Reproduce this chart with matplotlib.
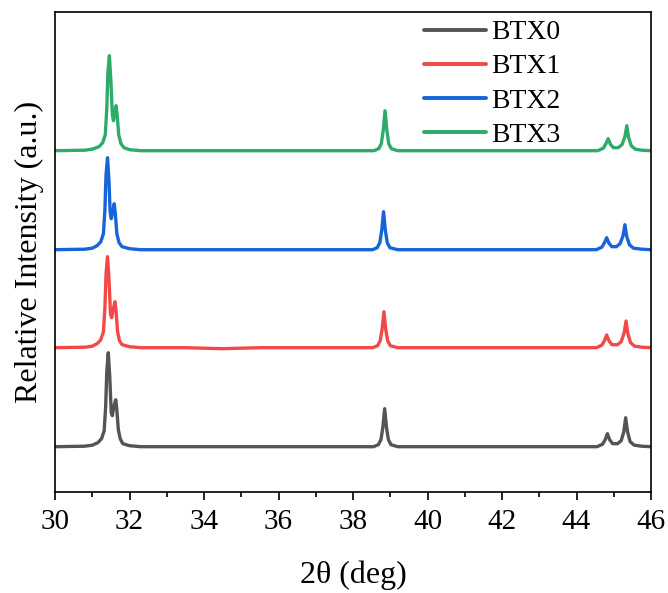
import matplotlib.pyplot as plt
from matplotlib.ticker import MultipleLocator

plt.rcParams['font.family'] = ['Liberation Serif', 'DejaVu Serif']

# ---- data (2theta in deg, intensity in a.u.) ----
labels = ['BTX0', 'BTX1', 'BTX2', 'BTX3']
colors = ['#545454', '#F44848', '#1764DA', '#2EAA6A']
offsets = [45.3, 144.3, 242.3, 341.3]

btx0_x = [30.0, 30.8, 31.0, 31.15, 31.25, 31.32, 31.36, 31.39, 31.43, 31.47,
          31.51, 31.54, 31.58, 31.63, 31.66, 31.70, 31.75, 31.82, 32.0, 32.3,
          38.55, 38.68, 38.75, 38.80, 38.85, 38.90, 38.95, 39.02, 39.2,
          44.55, 44.7, 44.77, 44.83, 44.89, 44.97, 45.1, 45.2, 45.27, 45.32,
          45.37, 45.44, 45.55, 45.75, 46.0]
btx0_y = [0, 0.5, 1.5, 4, 8, 16, 40, 75, 94, 70,
          34, 31, 40, 47, 37, 17, 8, 3, 1, 0,
          0, 2, 7, 19, 38, 19, 7, 2, 0,
          0, 2.5, 7, 13, 7, 3, 3, 6, 15, 29,
          15, 5, 1.5, 0.5, 0]

btx1_x = [30.0, 30.8, 31.0, 31.13, 31.23, 31.30, 31.34, 31.37, 31.41, 31.45,
          31.49, 31.52, 31.56, 31.61, 31.64, 31.68, 31.73, 31.80, 32.0, 32.3,
          33.5, 34.5, 35.5,
          38.53, 38.66, 38.73, 38.78, 38.83, 38.88, 38.93, 39.0, 39.2,
          44.53, 44.68, 44.75, 44.81, 44.87, 44.95, 45.1, 45.2, 45.28, 45.33,
          45.38, 45.45, 45.56, 45.75, 46.0]
btx1_y = [0, 0.5, 1.5, 4, 8, 16, 40, 74, 91, 68,
          34, 30, 38, 46, 36, 16, 7, 3, 1, 0,
          0, -1, 0,
          0, 2, 7, 18, 36, 18, 7, 2, 0,
          0, 2.5, 7, 12.7, 7, 3, 3, 6, 15, 26.7,
          14, 5, 1.5, 0.5, 0]

btx2_x = [30.0, 30.8, 31.0, 31.13, 31.23, 31.30, 31.34, 31.37, 31.41, 31.45,
          31.48, 31.51, 31.55, 31.59, 31.62, 31.66, 31.72, 31.80, 32.0, 32.3,
          38.52, 38.65, 38.72, 38.77, 38.82, 38.87, 38.92, 38.99, 39.2,
          44.53, 44.68, 44.75, 44.81, 44.87, 44.95, 45.07, 45.17, 45.25, 45.30,
          45.35, 45.42, 45.53, 45.75, 46.0]
btx2_y = [0, 0.5, 1.5, 4, 8, 16, 40, 75, 92, 68,
          38, 31, 38, 46, 36, 16, 7, 3, 1, 0,
          0, 2, 7, 19, 38, 19, 7, 2, 0,
          0, 2.5, 7, 12, 6.5, 3, 3, 6, 14, 25,
          13, 5, 1.5, 0.5, 0]

btx3_x = [30.0, 30.8, 31.0, 31.18, 31.28, 31.35, 31.39, 31.42, 31.46, 31.50,
          31.54, 31.57, 31.60, 31.64, 31.67, 31.71, 31.77, 31.85, 32.0, 32.3,
          38.56, 38.69, 38.76, 38.81, 38.86, 38.91, 38.96, 39.03, 39.2,
          44.57, 44.72, 44.79, 44.85, 44.91, 44.99, 45.12, 45.22, 45.30, 45.35,
          45.40, 45.47, 45.58, 45.75, 46.0]
btx3_y = [0, 0.5, 1.5, 4, 8, 16, 42, 78, 95, 70,
          36, 30, 37, 45, 35, 16, 7, 3, 1, 0,
          0, 2, 7, 20, 40, 20, 7, 2, 0,
          0, 2.5, 7, 12, 6.5, 3, 3, 6, 14, 25,
          13, 5, 1.5, 0.5, 0]

xs = [btx0_x, btx1_x, btx2_x, btx3_x]
ys = [btx0_y, btx1_y, btx2_y, btx3_y]

fig = plt.figure(figsize=(6.68, 5.93), dpi=100)
ax = fig.add_axes([55 / 668, 1 - 492 / 593, 596 / 668, 480 / 593])

for x, y, off, c, lab in zip(xs, ys, offsets, colors, labels):
    ax.plot(x, [v + off for v in y], color=c, lw=2.4, label=lab,
            solid_joinstyle='round', solid_capstyle='round')

ax.set_xlim(30, 46)
ax.set_ylim(0, 480)
ax.xaxis.set_major_locator(MultipleLocator(2))
ax.xaxis.set_minor_locator(MultipleLocator(1))
ax.set_yticks([])
ax.tick_params(axis='x', which='major', direction='out', length=6, width=1.2,
               labelsize=21, pad=6)
ax.tick_params(axis='x', which='minor', direction='out', length=3.5, width=1.2)
for s in ax.spines.values():
    s.set_linewidth(1.2)

ax.set_xlabel('2θ (deg)', fontsize=23)
ax.set_ylabel('Relative Intensity (a.u.)', fontsize=23)
# label positions (pixels)
ax.xaxis.set_label_coords((353 - 55) / 596, (492 - 561) / 480)
ax.yaxis.set_label_coords((44 - 55) / 596, 0.5)

leg = ax.legend(loc='upper left', bbox_to_anchor=(405 / 668, 1 - 0.5 / 593),
                bbox_transform=fig.transFigure, frameon=False, fontsize=20,
                handlelength=2.2, handletextpad=0.2, labelspacing=0.31,
                borderpad=0.2)
for h in leg.get_lines():
    h.set_linewidth(2.8)

fig.savefig('out.png', dpi=100)
